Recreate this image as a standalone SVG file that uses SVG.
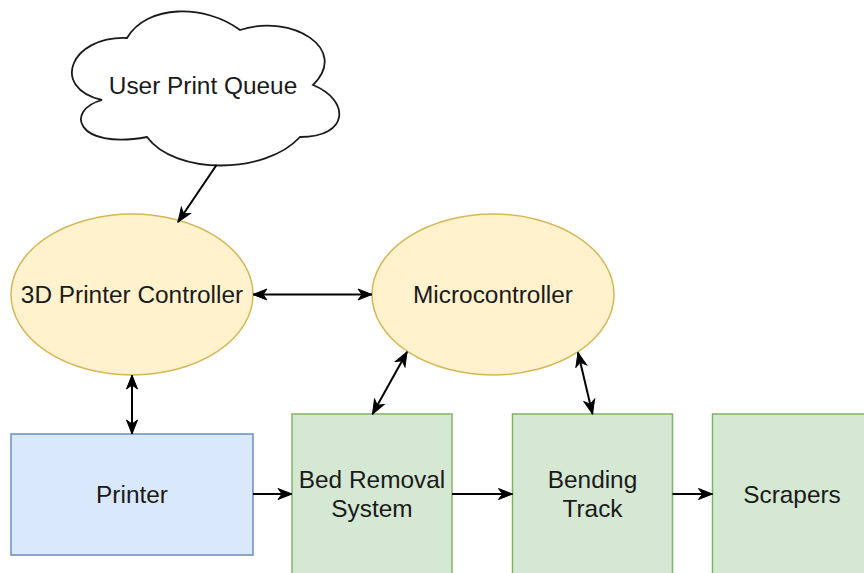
<svg xmlns="http://www.w3.org/2000/svg" width="864" height="573" viewBox="0 0 864 573">
<defs>
<style>
.lbl{font-family:"Liberation Sans",Arial,Helvetica,sans-serif;font-size:24.4px;fill:#1a1a1a;text-anchor:middle}
.cloud{fill:#ffffff;stroke:#1a1a1a;stroke-width:1.8}
.yel{fill:#fff2cc;stroke:#d6b656;stroke-width:1.5}
.blue{fill:#dae8fc;stroke:#6c8ebf;stroke-width:1.5}
.green{fill:#d5e8d4;stroke:#82b366;stroke-width:1.5}
.edge{fill:none;stroke:#000;stroke-width:2}
</style>
<marker id="arr" markerUnits="userSpaceOnUse" viewBox="-15 -7 16 14" refX="0" refY="0" markerWidth="16" markerHeight="14" orient="auto-start-reverse">
<path d="M0,0 L-14,-5.5 L-10,0 L-14,5.5 Z" fill="#000" stroke="#000" stroke-width="1" stroke-linejoin="miter"/>
</marker>
</defs>
<rect width="864" height="573" fill="#ffffff"/>
<g id="cloud">
<path class="cloud" d="M127,38 C70,36 50,88 102,100 C65,110 75,150 147,137 C175,175 265,175 300,137 C350,137 350,100 313,85 C350,49 292,13 240,30 C205,4 147,4 127,38 Z"/>
<text class="lbl" x="203" y="93.5">User Print Queue</text>
</g>
<g id="ctrl">
<ellipse class="yel" cx="132" cy="294.5" rx="121" ry="80.5"/>
<text class="lbl" x="132" y="303">3D Printer Controller</text>
</g>
<g id="micro">
<ellipse class="yel" cx="493" cy="294.5" rx="121" ry="80.5"/>
<text class="lbl" x="493" y="303">Microcontroller</text>
</g>
<g id="printer">
<rect class="blue" x="11" y="434" width="242" height="121"/>
<text class="lbl" x="132" y="503">Printer</text>
</g>
<g id="bed">
<rect class="green" x="292" y="414" width="160" height="170"/>
<text class="lbl" x="372" y="488">Bed Removal</text>
<text class="lbl" x="372" y="517">System</text>
</g>
<g id="bending">
<rect class="green" x="512.5" y="414" width="160" height="170"/>
<text class="lbl" x="592.5" y="488">Bending</text>
<text class="lbl" x="592.5" y="517">Track</text>
</g>
<g id="scrapers">
<rect class="green" x="712.5" y="414" width="160" height="170"/>
<text class="lbl" x="792" y="503">Scrapers</text>
</g>
<g id="connectors">
<line class="edge" x1="216.5" y1="165" x2="178" y2="222" marker-end="url(#arr)"/>
<line class="edge" x1="253" y1="294.5" x2="372" y2="294.5" marker-start="url(#arr)" marker-end="url(#arr)"/>
<line class="edge" x1="132" y1="375" x2="132" y2="434" marker-start="url(#arr)" marker-end="url(#arr)"/>
<line class="edge" x1="407" y1="352" x2="372.5" y2="414" marker-start="url(#arr)" marker-end="url(#arr)"/>
<line class="edge" x1="578" y1="352.5" x2="592.5" y2="414" marker-start="url(#arr)" marker-end="url(#arr)"/>
<line class="edge" x1="253" y1="494" x2="292" y2="494" marker-end="url(#arr)"/>
<line class="edge" x1="452" y1="494" x2="512.5" y2="494" marker-end="url(#arr)"/>
<line class="edge" x1="672.5" y1="494" x2="712.5" y2="494" marker-end="url(#arr)"/>
</g>
</svg>
